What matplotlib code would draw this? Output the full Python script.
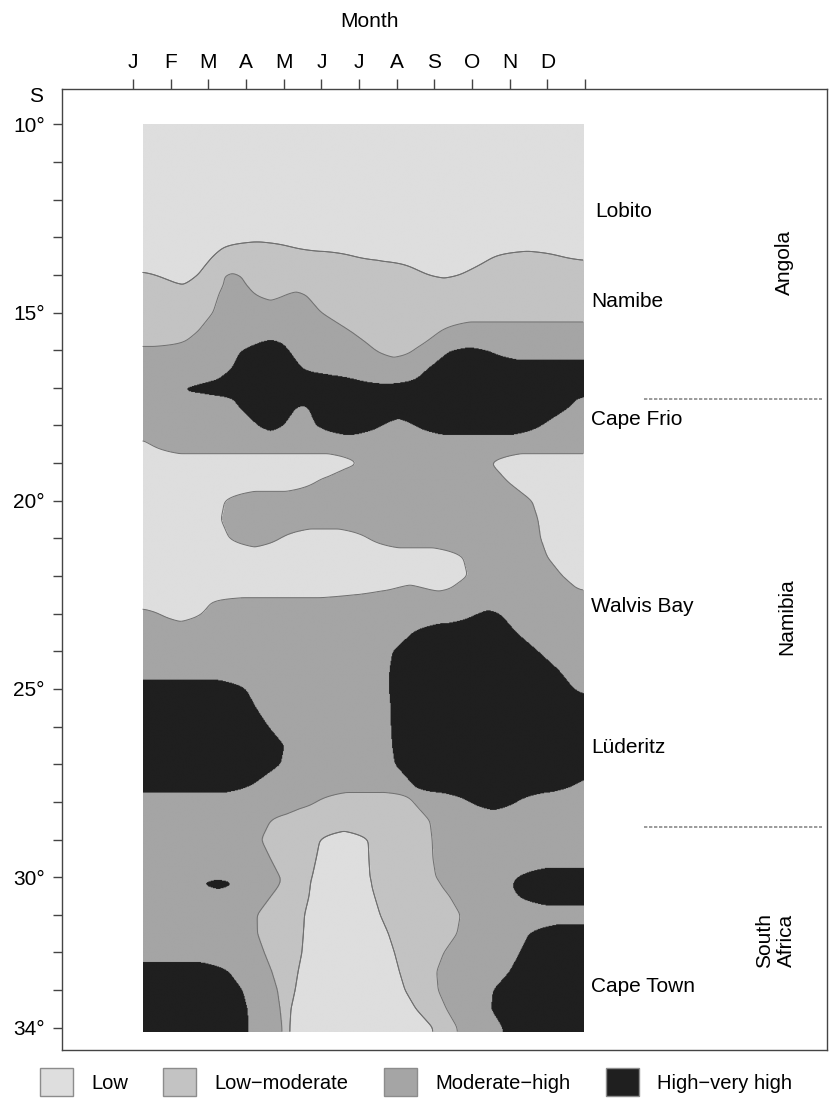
import numpy as np
import matplotlib
matplotlib.use('Agg')
import matplotlib.pyplot as plt
from matplotlib.colors import ListedColormap
from matplotlib.patches import Patch
from matplotlib.transforms import blended_transform_factory

plt.rcParams['font.family'] = ['Liberation Sans', 'DejaVu Sans']

months = ['J', 'F', 'M', 'A', 'M', 'J', 'J', 'A', 'S', 'O', 'N', 'D']
classes = ['Low', 'Low\u2212moderate', 'Moderate\u2212high', 'High\u2212very high']
class_colors = ['#dedede', '#c3c3c3', '#a5a5a5', '#1f1f1f']

# class read along each latitude (deg S): class codes and the month where each run ends
row_lats = [10.0, 13.0, 13.25, 13.5, 13.75, 14.0, 14.25, 14.5, 15.0, 15.5, 15.8,
            16.0, 16.5, 16.8, 17.0, 17.1, 17.25, 17.5, 18.0, 18.5, 19.0, 19.5, 20.0,
            20.5, 21.0, 21.5, 22.0, 22.4, 22.5, 22.65, 23.0, 23.5, 24.0, 24.5,
            25.0, 25.5, 26.0, 26.5, 27.0, 27.5, 28.0, 28.5, 29.0, 29.5, 30.0,
            30.05, 30.15, 30.25, 30.5, 31.0, 31.5, 32.0, 32.5, 33.0, 33.5, 34.0]
row_codes = [
    [0], [0], [0, 1, 0], [0, 1, 0, 1, 0], [0, 1, 0, 1],
    [1, 0, 1, 2, 1, 0, 1], [1, 0, 1, 2, 1], [1, 2, 1, 2, 1], [1, 2, 1], [1, 2, 1, 2],
    [1, 2, 3, 2, 1, 2],
    [2, 3, 2, 1, 2, 3, 2], [2, 3, 2, 3], [2, 3, 2, 3], [2, 3], [2, 3], [2, 3, 2],
    [2, 3, 2, 3, 2], [2, 3, 2, 3, 2, 3, 2], [0, 2], [0, 2, 0], [0, 2, 0], [0, 2, 0],
    [0, 2, 0], [0, 2, 0, 2, 0], [0, 2, 0], [0, 2, 0], [0, 2, 0, 2, 0], [0, 2],
    [0, 2], [2, 0, 2, 3, 2], [2, 3, 2], [2, 3, 2], [2, 3, 2],
    [3, 2, 3, 2], [3, 2, 3], [3, 2, 3], [3, 2, 3], [3, 2, 3], [3, 2, 3, 2],
    [2, 1, 2, 3, 2], [2, 1, 2], [2, 1, 0, 1, 2], [2, 1, 0, 1, 2], [2, 1, 0, 1, 2, 3],
    [2, 3, 2, 1, 0, 1, 2, 3], [2, 3, 2, 1, 0, 1, 2, 3], [2, 3, 2, 1, 0, 1, 2, 3],
    [2, 1, 0, 1, 2, 3],
    [2, 1, 0, 1, 2], [2, 1, 0, 1, 2, 3], [2, 1, 0, 1, 2, 3],
    [3, 2, 1, 0, 1, 2, 3], [3, 2, 1, 0, 1, 2, 3], [3, 2, 1, 0, 1, 2, 3],
    [3, 2, 1, 0, 1, 2, 3],
]
row_ends = [
    [12], [12], [2.41, 4.17, 12], [2.12, 5.84, 9.61, 11.33, 12], [1.91, 7.29, 9.18, 12],
    [0.58, 1.72, 2.44, 2.84, 7.83, 8.68, 12], [1.23, 1.38, 2.40, 2.99, 12],
    [2.28, 3.21, 4.09, 4.56, 12], [2.12, 4.99, 12], [1.72, 5.78, 8.15, 12],
    [1.35, 3.32, 3.95, 6.19, 7.75, 12],
    [2.84, 4.12, 6.43, 7.43, 8.41, 9.43, 12], [2.58, 4.48, 7.80, 12],
    [2.20, 5.95, 7.46, 12], [1.29, 12], [1.36, 12], [2.60, 11.8, 12],
    [2.78, 4.33, 4.62, 11.6, 12], [3.29, 3.98, 4.83, 6.60, 7.46, 10.83, 12],
    [0.45, 12], [5.97, 9.50, 12], [4.86, 9.95, 12], [2.43, 10.59, 12],
    [2.33, 10.75, 12], [2.55, 3.90, 6.25, 10.82, 12], [8.76, 11.0, 12],
    [8.88, 11.4, 12], [6.8, 7.9, 8.33, 11.86, 12], [5.76, 12],
    [2.12, 12], [0.69, 1.83, 9.11, 9.74, 12], [7.40, 10.17, 12], [6.87, 10.75, 12],
    [6.79, 11.3, 12],
    [2.98, 6.78, 11.7, 12], [3.25, 6.82, 12], [3.58, 6.83, 12], [4.0, 6.86, 12],
    [3.9, 6.93, 12], [3.21, 7.38, 11.8, 12],
    [4.86, 7.43, 8.92, 10.17, 12], [3.64, 7.88, 12], [3.40, 4.96, 6.24, 7.94, 12],
    [3.64, 4.86, 6.26, 7.96, 12], [3.90, 4.75, 6.29, 8.04, 10.19, 12],
    [1.93, 2.54, 3.92, 4.73, 6.31, 8.08, 10.12, 12],
    [1.85, 2.62, 3.90, 4.71, 6.33, 8.15, 10.08, 12],
    [1.93, 2.54, 3.85, 4.70, 6.34, 8.20, 10.06, 12],
    [3.66, 4.67, 6.41, 8.40, 10.2, 12],
    [3.29, 4.55, 6.56, 8.69, 12], [3.30, 4.52, 6.78, 8.60, 10.49, 12],
    [3.48, 4.48, 6.94, 8.25, 10.25, 12],
    [2.52, 3.68, 4.38, 7.07, 8.06, 9.98, 12], [2.89, 3.83, 4.30, 7.22, 8.10, 9.54, 12],
    [3.02, 3.90, 4.19, 7.51, 8.32, 9.49, 12], [3.05, 3.95, 4.16, 7.96, 8.61, 9.80, 12],
]

places = ['Lobito', 'Namibe', 'Cape Frio', 'Walvis Bay', 'L\u00fcderitz', 'Cape Town']
place_lats = [12.47, 14.85, 17.99, 22.95, 26.70, 33.04]
countries = ['Angola', 'Namibia', 'South\nAfrica']
country_lats = [13.68, 23.09, 31.67]
border_lats = [17.31, 28.67]


def row_field(codes, ends, xs, k, cap):
    """signed distance (months) to the runs of class k in one row"""
    starts = [0.0] + ends[:-1]
    d = np.full(xs.shape, -cap)
    for c, a, b in zip(codes, starts, ends):
        if c != k:
            continue
        lo = xs - a if a > 0 else np.full(xs.shape, np.inf)
        hi = b - xs if b < 12 else np.full(xs.shape, np.inf)
        d = np.maximum(d, np.minimum(lo, hi))
    return np.clip(d, -cap, cap)


def gauss_matrix(v, sigma):
    g = np.exp(-0.5 * ((v[:, None] - v[None, :]) / sigma) ** 2)
    return g / g.sum(axis=1, keepdims=True)


xs = np.arange(0.25, 11.9501, 0.02)
ys = np.arange(10.0, 34.1001, 0.02)
cap = 0.8

# hat weights: linear interpolation between the read rows
W = np.zeros((len(ys), len(row_lats)))
for j in range(len(row_lats)):
    e = np.zeros(len(row_lats))
    e[j] = 1
    W[:, j] = np.interp(ys, row_lats, e)
Gy = gauss_matrix(ys, 0.07)
Gx = gauss_matrix(xs, 0.04)

fields = []
for k in range(4):
    D = np.array([row_field(c, e, xs, k, cap) for c, e in zip(row_codes, row_ends)])
    fields.append(Gy @ (W @ D) @ Gx.T)
fields = np.array(fields)
label = np.argmax(fields, axis=0)

fig = plt.figure(figsize=(8.32, 11.04), dpi=100)
ax = fig.add_axes([62 / 832, 1 - 1050 / 1104, 765 / 832, 961 / 1104])

ax.imshow(label, cmap=ListedColormap(class_colors), vmin=-0.5, vmax=3.5,
          extent=(xs[0], xs[-1], ys[-1], ys[0]), origin='upper', aspect='auto',
          interpolation='antialiased')
for k in (0, 1):
    others = np.max(np.delete(fields, k, axis=0), axis=0)
    ax.contour(xs, ys, fields[k] - others, levels=[0], colors='#707070', linewidths=0.7)

ax.set_xlim(-1.891, 18.428)
ax.set_ylim(34.59, 9.062)

ax.xaxis.tick_top()
ax.set_xticks(range(13))
ax.set_xticklabels(months + [''])
ax.set_yticks(range(10, 35))
ax.set_yticklabels([f'{v}\u00b0' if v in (10, 15, 20, 25, 30, 34) else '' for v in range(10, 35)])
ax.tick_params(axis='x', length=7.5, width=1, color='#444444', pad=5, labelsize=15)
ax.tick_params(axis='y', length=6.5, width=1, color='#444444', pad=6, labelsize=15)
for s in ax.spines.values():
    s.set_color('#444444')
    s.set_linewidth(1.0)

trans = blended_transform_factory(ax.transAxes, ax.transData)
ax.text(-0.0248, 9.41, 'S', transform=trans, ha='right', va='baseline', fontsize=15)
fig.text(369 / 832, 1 - 27 / 1104, 'Month', ha='center', va='baseline', fontsize=15)

for name, lat in zip(places, place_lats):
    ax.text(12.17 if name != 'Lobito' else 12.27, lat, name, ha='left', va='baseline', fontsize=15)
for name, lat, xm in zip(countries, country_lats, [17.31, 17.36, 17.05]):
    ax.text(xm, lat, name, rotation=90, ha='center', va='center', fontsize=15,
            multialignment='center')
for lat in border_lats:
    ax.plot([13.56, 18.3], [lat, lat], color='#8a8a8a', lw=1.2, linestyle=(0, (2, 1)))

handles = [Patch(facecolor=c, edgecolor='#8c8c8c', linewidth=1) for c in class_colors]
fig.legend(handles, classes, loc='center', bbox_to_anchor=(0.5, 1 - 1082 / 1104), ncol=4,
           frameon=False, fontsize=14.5, handlelength=1.64, handleheight=1.7,
           handletextpad=0.9, columnspacing=1.77)

fig.savefig('out.png', dpi=100)
